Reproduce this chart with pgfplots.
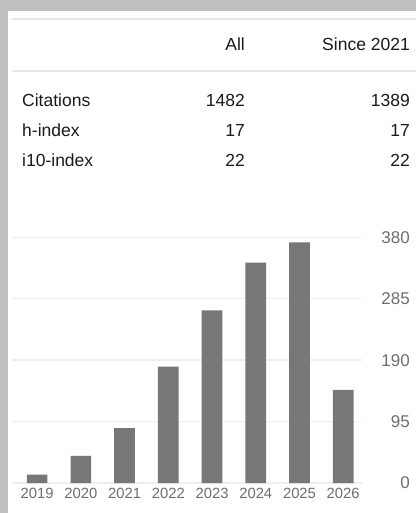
\documentclass[border=0pt]{standalone}
\usepackage{pgfplots}
\pgfplotsset{compat=1.18}
\usepackage{fontspec}
\setmainfont{Liberation Sans}
\definecolor{bggray}{HTML}{BFBFBF}
\definecolor{linegray}{HTML}{E6E6E6}
\definecolor{gridgray}{HTML}{EEEEEE}
\definecolor{barc}{HTML}{777777}
\definecolor{tickc}{HTML}{6E6E6E}
\definecolor{txt}{HTML}{1A1A1A}
\begin{document}
\begin{tikzpicture}
\useasboundingbox (0,0) rectangle (416bp,-513bp);
\fill[bggray] (0,0) rectangle (416bp,-513bp);
\fill[white] (8bp,-11bp) rectangle (416bp,-513bp);
\draw[linegray, line width=1.5bp] (12bp,-19bp) -- (416bp,-19bp);
\draw[linegray, line width=1.5bp] (12bp,-71bp) -- (416bp,-71bp);
\begingroup
\fontsize{17.5bp}{21bp}\selectfont
\node[anchor=base east, inner sep=0, text=txt] at (245bp,-50bp) {All};
\node[anchor=base east, inner sep=0, text=txt] at (410bp,-50bp) {Since 2021};
\node[anchor=base west, inner sep=0, text=txt] at (22bp,-106bp) {Citations};
\node[anchor=base east, inner sep=0, text=txt] at (245bp,-106bp) {1482};
\node[anchor=base east, inner sep=0, text=txt] at (410bp,-106bp) {1389};
\node[anchor=base west, inner sep=0, text=txt] at (22bp,-136.5bp) {h-index};
\node[anchor=base east, inner sep=0, text=txt] at (245bp,-136.5bp) {17};
\node[anchor=base east, inner sep=0, text=txt] at (410bp,-136.5bp) {17};
\node[anchor=base west, inner sep=0, text=txt] at (22bp,-166.5bp) {i10-index};
\node[anchor=base east, inner sep=0, text=txt] at (245bp,-166.5bp) {22};
\node[anchor=base east, inner sep=0, text=txt] at (410bp,-166.5bp) {22};
\endgroup
\begin{axis}[
  at={(12bp,-483bp)}, anchor=south west,
  scale only axis, width=350bp, height=245.7bp,
  xmin=-0.575, xmax=7.43, ymin=0, ymax=380,
  axis line style={draw=none},
  tick style={draw=none}, major tick length=0pt,
  ymajorgrids, grid style={gridgray, line width=1.5bp},
  ytick={0,95,190,285,380},
  yticklabel pos=right,
  /pgf/number format/assume math mode=true,
  yticklabel style={anchor=east, inner sep=0pt, xshift=48bp, text=tickc, font=\fontsize{17bp}{20bp}\selectfont},
  xtick={0,...,7},
  xticklabels={2019,2020,2021,2022,2023,2024,2025,2026},
  xticklabel style={anchor=north, inner sep=0pt, yshift=-4.5bp, text=tickc, font=\fontsize{14.8bp}{17bp}\selectfont},
  ybar, bar width=20.7bp,
]
\addplot[fill=barc, draw=none] coordinates {(0,13) (1,42) (2,85) (3,180) (4,267) (5,341) (6,372) (7,144)};
\end{axis}
\end{tikzpicture}
\end{document}
